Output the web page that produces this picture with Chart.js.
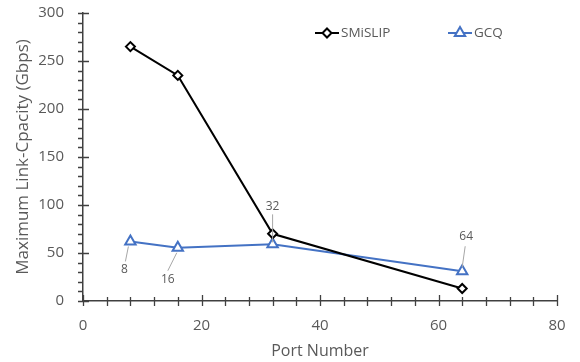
<!DOCTYPE html>
<html>
<head>
<meta charset="utf-8">
<script src="https://cdn.jsdelivr.net/npm/chart.js@4.4.1/dist/chart.umd.min.js"></script>
<style>
  html, body { margin: 0; padding: 0; background: #fff; }
  #wrap { width: 580px; height: 362px; }
</style>
</head>
<body>
<div id="wrap"><canvas id="c" width="580" height="362"></canvas></div>
<script>
// Port counts and the maximum link capacity reached by each scheduler
const ports = [8, 16, 32, 64];
const smislip = [265, 235, 70, 13];
const gcq = [62, 55.5, 59, 31];
const seriesNames = ['SMiSLIP', 'GCQ'];
const xTicks = [0, 20, 40, 60, 80];
const yTicks = [0, 50, 100, 150, 200, 250, 300];

const TEXT = '#595959';
const AXIS = '#404040';
const BLUE = '#4472C4';
const FONT = "'Open Sans', 'Noto Sans', sans-serif";

// Excel-style tick marks: majors cross the axis, minors sit outside (y) or cross (x)
const tickMarks = {
  id: 'tickMarks',
  afterDraw(chart) {
    const { ctx, chartArea: a, scales: { x, y } } = chart;
    ctx.save();
    ctx.strokeStyle = AXIS;
    ctx.lineWidth = 1.3;
    ctx.beginPath();
    for (let v = 0; v <= 300; v += 10) {
      const py = Math.round(y.getPixelForValue(v)) + 0.5;
      const major = v % 50 === 0;
      ctx.moveTo(a.left - 5, py);
      ctx.lineTo(a.left + (major ? 6 : 0), py);
    }
    for (let v = 0; v <= 80; v += 4) {
      const px = Math.round(x.getPixelForValue(v)) + 0.5;
      const major = v % 20 === 0;
      ctx.moveTo(px, a.bottom - (major ? 6 : 4));
      ctx.lineTo(px, a.bottom + 5);
    }
    ctx.stroke();
    ctx.restore();
  }
};

// Port-number callouts with grey leader lines on the GCQ series
const callouts = {
  id: 'callouts',
  afterDatasetsDraw(chart, args, opts) {
    const { ctx, scales: { x, y } } = chart;
    ctx.save();
    ctx.font = '12px ' + FONT;
    ctx.fillStyle = TEXT;
    ctx.textAlign = 'center';
    ctx.textBaseline = 'middle';
    ctx.strokeStyle = '#A6A6A6';
    ctx.lineWidth = 1;
    ports.forEach((p, i) => {
      const px = x.getPixelForValue(p);
      const py = y.getPixelForValue(gcq[i]);
      const o = opts.offsets[i];
      ctx.beginPath();
      ctx.moveTo(px + o.l0[0], py + o.l0[1]);
      ctx.lineTo(px + o.l1[0], py + o.l1[1]);
      ctx.stroke();
      ctx.fillText(String(p), px + o.t[0], py + o.t[1]);
    });
    ctx.restore();
  }
};

// Legend drawn inside the plot area, near the top right
const innerLegend = {
  id: 'innerLegend',
  afterDraw(chart, args, opts) {
    const { ctx } = chart;
    ctx.save();
    ctx.font = '13.5px ' + FONT;
    ctx.textBaseline = 'middle';
    chart.data.datasets.forEach((ds, i) => {
      const [lx, ly] = opts.items[i];
      ctx.strokeStyle = ds.borderColor;
      ctx.lineWidth = 2;
      ctx.beginPath();
      ctx.moveTo(lx, ly);
      ctx.lineTo(lx + 24, ly);
      ctx.stroke();
      ctx.fillStyle = '#fff';
      ctx.beginPath();
      const r = ds.pointRadius;
      if (ds.pointStyle === 'triangle') {
        ctx.moveTo(lx + 12, ly - r);
        ctx.lineTo(lx + 12 + r * 0.866, ly + r / 2);
        ctx.lineTo(lx + 12 - r * 0.866, ly + r / 2);
      } else {
        ctx.moveTo(lx + 12, ly - r);
        ctx.lineTo(lx + 12 + r, ly);
        ctx.lineTo(lx + 12, ly + r);
        ctx.lineTo(lx + 12 - r, ly);
      }
      ctx.closePath();
      ctx.fill();
      ctx.stroke();
      ctx.fillStyle = TEXT;
      ctx.fillText(ds.label, lx + 26, ly);
    });
    ctx.restore();
  }
};

new Chart(document.getElementById('c'), {
  type: 'line',
  data: {
    datasets: [
      {
        label: seriesNames[0],
        data: ports.map((p, i) => ({ x: p, y: smislip[i] })),
        borderColor: '#000000',
        backgroundColor: '#ffffff',
        borderWidth: 2,
        pointStyle: 'rectRot',
        pointRadius: 4.5,
        pointBorderWidth: 2,
        pointBackgroundColor: '#ffffff',
        pointBorderColor: '#000000',
        tension: 0
      },
      {
        label: seriesNames[1],
        data: ports.map((p, i) => ({ x: p, y: gcq[i] })),
        borderColor: BLUE,
        backgroundColor: '#ffffff',
        borderWidth: 2,
        pointStyle: 'triangle',
        pointRadius: 6,
        pointBorderWidth: 2,
        pointBackgroundColor: '#ffffff',
        pointBorderColor: BLUE,
        tension: 0
      }
    ]
  },
  options: {
    responsive: false,
    animation: false,
    layout: { padding: { top: 13, right: 23, left: 0, bottom: 0 } },
    plugins: {
      legend: { display: false },
      tooltip: { enabled: false },
      innerLegend: { items: [[315, 33], [448, 33]] },
      callouts: {
        offsets: [
          { l0: [-2, 5], l1: [-5, 20], t: [-6, 28] },
          { l0: [-1, 5], l1: [-10, 23], t: [-10, 32] },
          { l0: [0, -2], l1: [0, -30], t: [0, -38] },
          { l0: [0, -4], l1: [3, -25], t: [4, -35] }
        ]
      }
    },
    scales: {
      x: {
        type: 'linear',
        min: 0,
        max: 80,
        afterBuildTicks(s) { s.ticks = xTicks.map(v => ({ value: v })); },
        afterFit(s) { s.height = 61; s.paddingLeft = 0; s.paddingRight = 0; },
        grid: { display: false, drawTicks: false },
        border: { display: true, color: AXIS, width: 1.5 },
        ticks: { color: TEXT, font: { family: FONT, size: 15 }, padding: 16, maxRotation: 0 },
        title: { display: true, text: 'Port Number', color: TEXT, font: { family: FONT, size: 16 }, padding: { top: 0, bottom: 1 } }
      },
      y: {
        type: 'linear',
        min: 0,
        max: 300,
        afterBuildTicks(s) { s.ticks = yTicks.map(v => ({ value: v })); },
        afterFit(s) { s.width = 83; s.paddingTop = 0; s.paddingBottom = 0; },
        grid: { display: false, drawTicks: false },
        border: { display: true, color: AXIS, width: 1.5 },
        ticks: { color: TEXT, font: { family: FONT, size: 15 }, padding: 19 },
        title: { display: true, text: 'Maximum Link-Cpacity (Gbps)', color: TEXT, font: { family: FONT, size: 17 }, padding: { top: 13, bottom: 0 } }
      }
    }
  },
  plugins: [tickMarks, callouts, innerLegend]
});
</script>
</body>
</html>
